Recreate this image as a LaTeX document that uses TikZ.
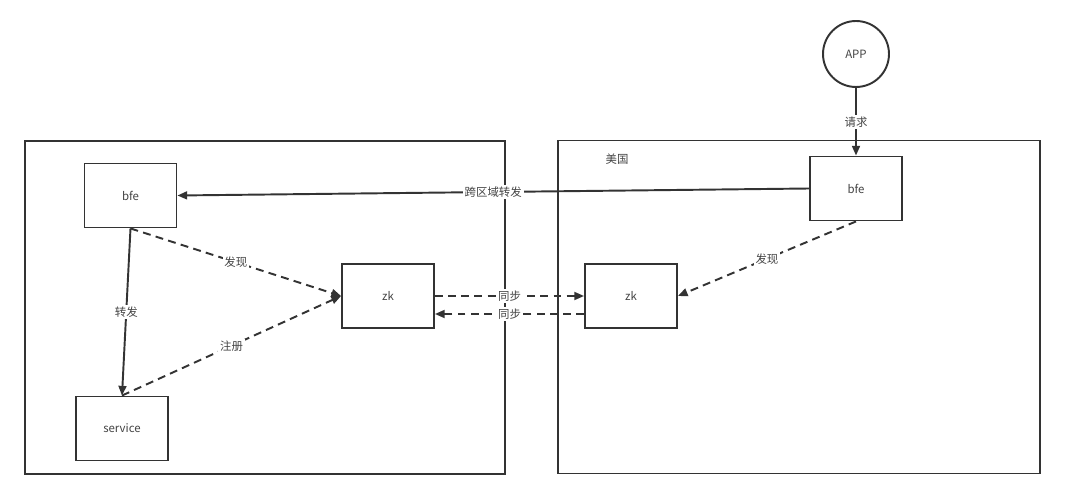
\documentclass[tikz,border=0pt]{standalone}
\usepackage{fontspec}
\setmainfont{Noto Sans CJK SC}
\usetikzlibrary{arrows.meta,calc}
\definecolor{linea}{HTML}{333333}
\definecolor{texto}{HTML}{444444}
\begin{document}
\begin{tikzpicture}[
        x=0.02cm, y=-0.02cm,
        every node/.style={font=\fontsize{6.5}{8}\selectfont, text=texto},
        region/.style={rectangle, draw=linea, line width=1.1pt, minimum width=9.6cm, minimum height=6.66cm},
        caja/.style={rectangle, draw=linea, line width=1.1pt, fill=white, minimum width=1.84cm, minimum height=1.28cm},
        cliente/.style={circle, draw=linea, line width=1.1pt, fill=white, minimum size=1.32cm},
        flecha/.style={-{Triangle[length=5.5pt,width=4.5pt]}, draw=linea, line width=1.1pt},
        punteada/.style={flecha, dash pattern=on 4.5pt off 3pt},
        etiqueta/.style={fill=white, inner sep=1pt}
    ]
        \useasboundingbox (0,0) rectangle (1080,483);

        \node[region] (izq) at (265,307.5) {};
        \node[region, minimum width=9.64cm] (der) at (799,307) {};
        \node (pais) at (617,159) {美国};

        \node[cliente] (app) at (856,54) {APP};
        \node[caja] (bfeus) at (856,188.5) {bfe};
        \node[caja] (bfe) at (130.5,195.5) {bfe};
        \node[caja] (svc) at (122,428.5) {service};
        \node[caja] (zk) at (388,296) {zk};
        \node[caja] (zkus) at (631,296) {zk};

        \draw[flecha] (app) -- node[etiqueta] {请求} (bfeus);
        \draw[flecha] (bfeus.west) -- node[etiqueta] {跨区域转发} (bfe.east);
        \draw[flecha] (bfe.south) -- node[etiqueta] {转发} (svc.north);
        \draw[punteada] (bfe.south) -- node[etiqueta] {发现} (zk.west);
        \draw[punteada] (svc.north) -- node[etiqueta] {注册} (zk.west);
        \draw[punteada] (zk.east) -- node[etiqueta] {同步} (zkus.west);
        \draw[punteada] ($(zkus.west)+(0,18)$) -- node[etiqueta] {同步} ($(zk.east)+(0,18)$);
        \draw[punteada] (bfeus.south) -- node[etiqueta] {发现} (zkus.east);
    \end{tikzpicture}
\end{document}
